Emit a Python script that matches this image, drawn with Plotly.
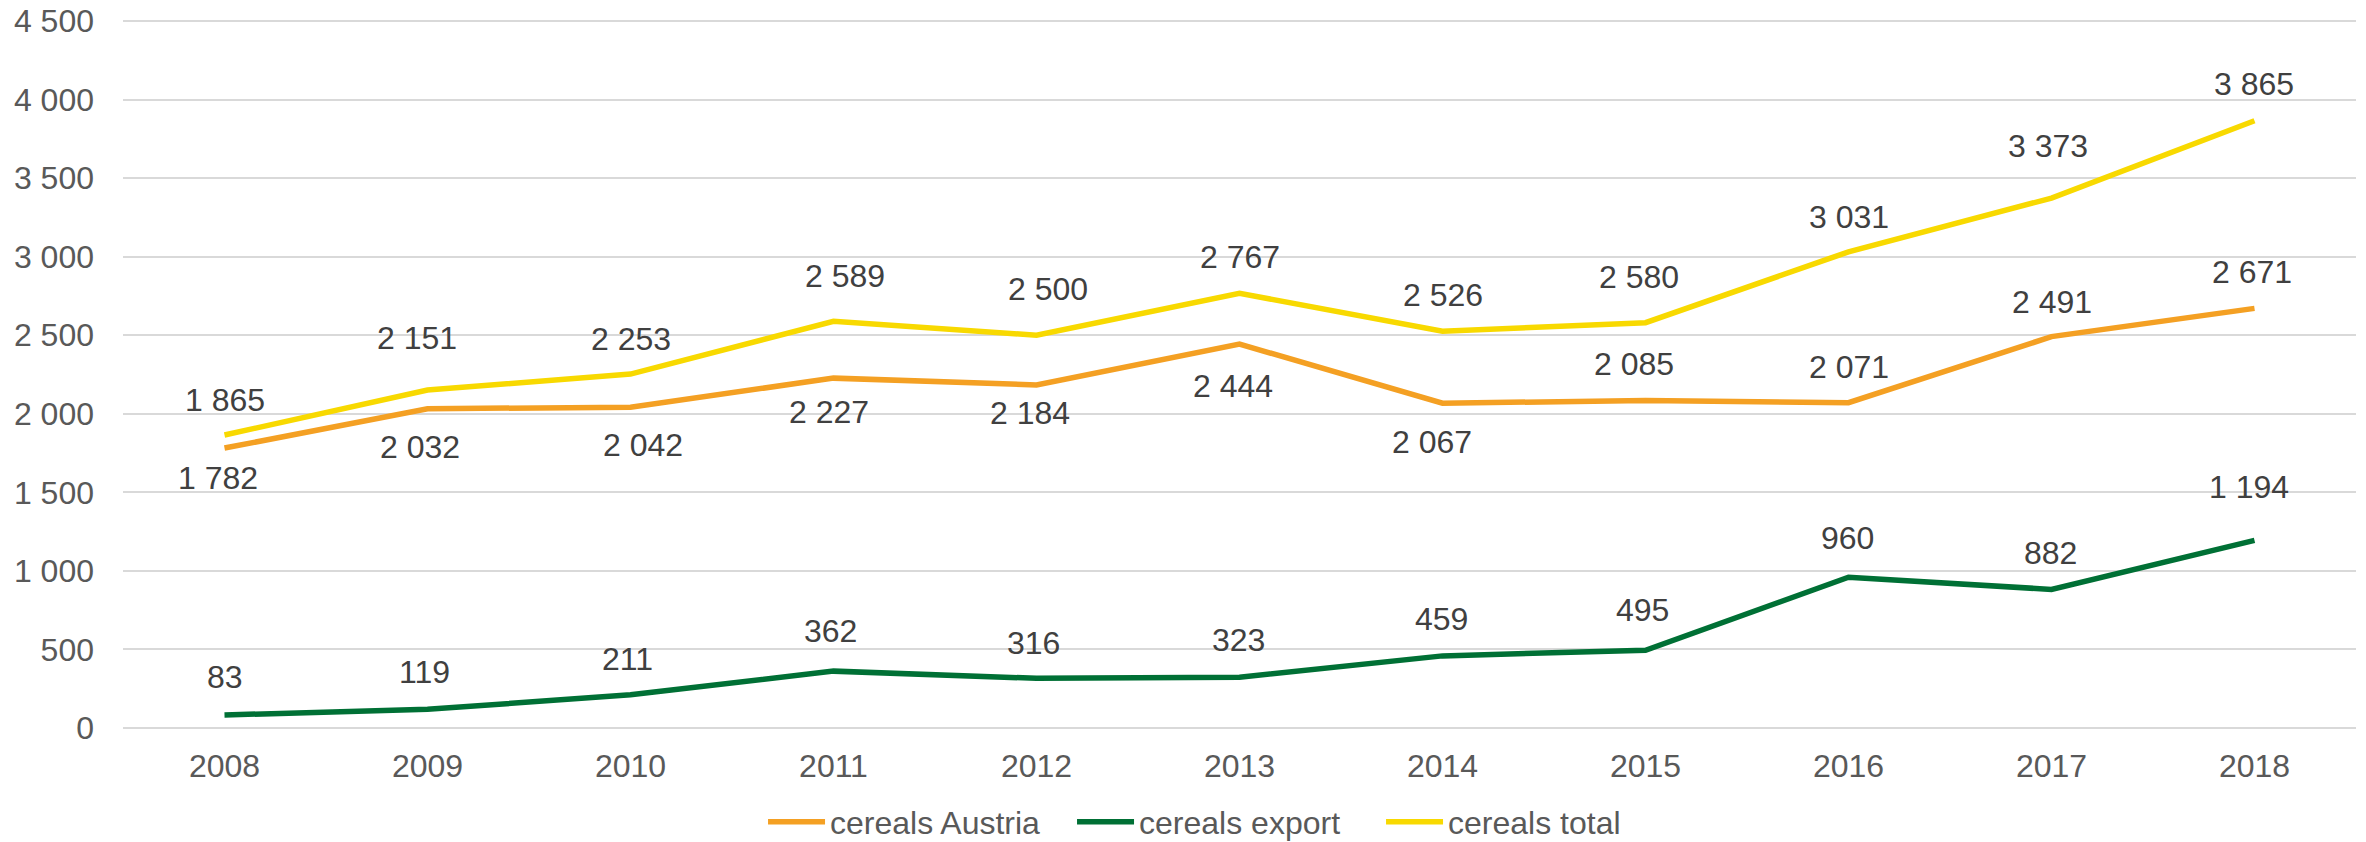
import plotly.graph_objects as go

years = ["2008", "2009", "2010", "2011", "2012", "2013", "2014", "2015", "2016", "2017", "2018"]
cereals_austria = [1782, 2032, 2042, 2227, 2184, 2444, 2067, 2085, 2071, 2491, 2671]
cereals_export = [83, 119, 211, 362, 316, 323, 459, 495, 960, 882, 1194]
cereals_total = [1865, 2151, 2253, 2589, 2500, 2767, 2526, 2580, 3031, 3373, 3865]
y_ticks = [0, 500, 1000, 1500, 2000, 2500, 3000, 3500, 4000, 4500]

# label placement (style only): pixel offsets of each data label from its point
# (dx: right positive, dy: down positive)
austria_dx = [-7, -8, 12, -5, -7, -7, -11, -12, 0, 0, -3]
austria_dy = [30, 38, 38, 34, 28, 42, 39, -36, -36, -35, -36]
export_dx = [0, -3, -3, -3, -3, -1, -1, -3, -1, -1, -6]
export_dy = [-38, -37, -36, -40, -35, -37, -37, -40, -39, -36, -53]
total_dx = [0, -11, 0, 11, 11, 0, 0, -7, 0, -4, -1]
total_dy = [-35, -52, -35, -45, -46, -36, -36, -46, -35, -52, -37]

FONT = "Liberation Sans"
series = [
    ("cereals Austria", cereals_austria, "#F4A023", austria_dx, austria_dy),
    ("cereals export", cereals_export, "#007035", export_dx, export_dy),
    ("cereals total", cereals_total, "#F8D900", total_dx, total_dy),
]

fig = go.Figure()
annotations = []
for name, vals, color, dxs, dys in series:
    fig.add_trace(go.Scatter(
        x=years, y=vals, mode="lines", name=name,
        line=dict(color=color, width=5.5),
    ))
    for i, (v, dx, dy) in enumerate(zip(vals, dxs, dys)):
        annotations.append(dict(
            x=i, y=v, xref="x", yref="y",  # category index on the x axis
            text=f"{v:,}".replace(",", " "),
            showarrow=False, yshift=-dy, xshift=dx,
            font=dict(family=FONT, size=32, color="#404040"),
        ))

# page body has an 8px margin; size the figure so it ends at the window edge
fig.update_layout(
    width=2358, height=834,
    paper_bgcolor="white", plot_bgcolor="white",
    margin=dict(l=115, r=10, t=8, b=114, autoexpand=False),
    separators=", ",
    font=dict(family=FONT, size=32, color="#595959"),
    showlegend=True,
    legend=dict(
        orientation="h", x=0.3202, xanchor="left", xref="container",
        y=0.024, yanchor="middle", yref="container",
        entrywidth=237, itemwidth=57,
        font=dict(family=FONT, size=32, color="#595959"),
    ),
    annotations=annotations,
)
fig.update_xaxes(
    type="category", range=[-0.5, 10.5], showgrid=False, zeroline=False,
    showline=False, ticks="", tickfont=dict(size=32, color="#595959"),
    ticklabelstandoff=16, automargin=False,
)
fig.update_yaxes(
    range=[0, 4532], tickvals=y_ticks,
    tickformat=",d", showgrid=True,
    gridcolor="#D9D9D9", gridwidth=2, zeroline=True, zerolinecolor="#D9D9D9",
    zerolinewidth=2, showline=False, ticks="", ticklabeloverflow="allow",
    tickfont=dict(size=32, color="#595959"), ticklabelstandoff=28,
    automargin=False,
)

fig.write_html("out.html")
